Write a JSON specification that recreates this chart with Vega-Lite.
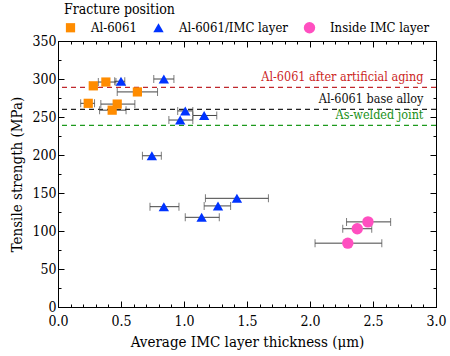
{
  "$schema": "https://vega.github.io/schema/vega-lite/v6.json",
  "width": 378,
  "height": 266,
  "autosize": {"type": "none"},
  "padding": {"left": 58, "top": 41, "right": 14, "bottom": 49},
  "background": "white",
  "config": {
    "font": "DejaVu Serif Condensed, DejaVu Serif",
    "view": {"stroke": "black", "strokeWidth": 1},
    "axis": {"grid": false, "domainColor": "black", "tickColor": "black", "labelColor": "black", "titleColor": "black", "labelFont": "DejaVu Serif Condensed, DejaVu Serif", "titleFont": "DejaVu Serif Condensed, DejaVu Serif", "labelFontSize": 14, "titleFontSize": 15, "titleFontWeight": "normal"},
    "legend": {"labelFont": "DejaVu Serif Condensed, DejaVu Serif", "titleFont": "DejaVu Serif Condensed, DejaVu Serif", "labelColor": "black", "titleColor": "black"}
  },
  "datasets": {
    "pts": [
      {"group": "Al-6061", "t": 0.28, "lo": 0.25, "hi": 0.31, "s": 291},
      {"group": "Al-6061", "t": 0.38, "lo": 0.32, "hi": 0.46, "s": 296},
      {"group": "Al-6061", "t": 0.63, "lo": 0.47, "hi": 0.79, "s": 283},
      {"group": "Al-6061", "t": 0.24, "lo": 0.18, "hi": 0.29, "s": 268},
      {"group": "Al-6061", "t": 0.47, "lo": 0.34, "hi": 0.61, "s": 267},
      {"group": "Al-6061", "t": 0.43, "lo": 0.33, "hi": 0.54, "s": 259},
      {"group": "Al-6061/IMC layer", "t": 0.50, "lo": 0.45, "hi": 0.53, "s": 297},
      {"group": "Al-6061/IMC layer", "t": 0.84, "lo": 0.76, "hi": 0.92, "s": 300},
      {"group": "Al-6061/IMC layer", "t": 1.01, "lo": 0.95, "hi": 1.07, "s": 258},
      {"group": "Al-6061/IMC layer", "t": 0.97, "lo": 0.88, "hi": 1.07, "s": 246},
      {"group": "Al-6061/IMC layer", "t": 1.16, "lo": 1.07, "hi": 1.26, "s": 252},
      {"group": "Al-6061/IMC layer", "t": 0.745, "lo": 0.67, "hi": 0.82, "s": 199},
      {"group": "Al-6061/IMC layer", "t": 0.84, "lo": 0.73, "hi": 0.96, "s": 132},
      {"group": "Al-6061/IMC layer", "t": 1.14, "lo": 1.01, "hi": 1.28, "s": 118},
      {"group": "Al-6061/IMC layer", "t": 1.27, "lo": 1.16, "hi": 1.37, "s": 133},
      {"group": "Al-6061/IMC layer", "t": 1.42, "lo": 1.17, "hi": 1.67, "s": 143},
      {"group": "Inside IMC layer", "t": 2.46, "lo": 2.29, "hi": 2.64, "s": 112},
      {"group": "Inside IMC layer", "t": 2.375, "lo": 2.26, "hi": 2.49, "s": 103},
      {"group": "Inside IMC layer", "t": 2.30, "lo": 2.04, "hi": 2.57, "s": 84}
    ],
    "refs": [
      {"label": "Al-6061 after artificial aging", "v": 289},
      {"label": "Al-6061 base alloy", "v": 260},
      {"label": "As-welded joint", "v": 239}
    ]
  },
  "resolve": {"scale": {"color": "independent", "shape": "independent", "size": "independent"}, "axis": {"x": "independent", "y": "independent"}},
  "layer": [
    {
      "data": {"name": "refs"},
      "mark": {"type": "rule", "strokeDash": [5, 4], "strokeWidth": 1.3},
      "encoding": {
        "y": {"field": "v", "type": "quantitative", "scale": {"domain": [0, 350], "nice": false}, "axis": null},
        "color": {"field": "label", "type": "nominal", "legend": null, "scale": {"domain": ["Al-6061 after artificial aging", "Al-6061 base alloy", "As-welded joint"], "range": ["#c0282d", "#222222", "#1e9a1e"]}}
      }
    },
    {
      "data": {"name": "refs"},
      "mark": {"type": "text", "align": "right", "baseline": "middle", "dy": -10, "fontSize": 12.5, "font": "DejaVu Serif Condensed, DejaVu Serif"},
      "encoding": {
        "x": {"datum": 2.9, "type": "quantitative", "axis": null},
        "y": {"field": "v", "type": "quantitative", "axis": null},
        "text": {"field": "label"},
        "color": {"field": "label", "type": "nominal", "legend": null, "scale": {"domain": ["Al-6061 after artificial aging", "Al-6061 base alloy", "As-welded joint"], "range": ["#cc1f1f", "#111111", "#189018"]}}
      }
    },
    {
      "data": {"name": "pts"},
      "mark": {"type": "rule", "color": "#444444", "strokeWidth": 1},
      "encoding": {
        "x": {"field": "lo", "type": "quantitative", "scale": {"domain": [0, 3], "nice": false},
          "axis": {"orient": "top", "title": null, "labels": false, "values": [0,0.1,0.2,0.3,0.4,0.5,0.6,0.7,0.8,0.9,1,1.1,1.2,1.3,1.4,1.5,1.6,1.7,1.8,1.9,2,2.1,2.2,2.3,2.4,2.5,2.6,2.7,2.8,2.9,3],
            "tickSize": {"condition": {"test": "abs(datum.value*2 - round(datum.value*2)) < 0.001", "value": -6}, "value": -3}}},
        "x2": {"field": "hi"},
        "y": {"field": "s", "type": "quantitative",
          "axis": {"orient": "right", "title": null, "labels": false, "values": [0,25,50,75,100,125,150,175,200,225,250,275,300,325,350],
            "tickSize": {"condition": {"test": "datum.value % 50 == 0", "value": -6}, "value": -3}}}
      }
    },
    {
      "data": {"name": "pts"},
      "mark": {"type": "tick", "orient": "vertical", "color": "#444444", "size": 8, "thickness": 1},
      "encoding": {
        "x": {"field": "lo", "type": "quantitative", "axis": null},
        "y": {"field": "s", "type": "quantitative", "axis": null}
      }
    },
    {
      "data": {"name": "pts"},
      "mark": {"type": "tick", "orient": "vertical", "color": "#444444", "size": 8, "thickness": 1},
      "encoding": {
        "x": {"field": "hi", "type": "quantitative", "axis": null},
        "y": {"field": "s", "type": "quantitative", "axis": null}
      }
    },
    {
      "data": {"name": "pts"},
      "mark": {"type": "point", "filled": true, "opacity": 1, "strokeWidth": 0},
      "encoding": {
        "x": {"field": "t", "type": "quantitative",
          "axis": {"orient": "bottom", "title": "Average IMC layer thickness (μm)", "values": [0,0.1,0.2,0.3,0.4,0.5,0.6,0.7,0.8,0.9,1,1.1,1.2,1.3,1.4,1.5,1.6,1.7,1.8,1.9,2,2.1,2.2,2.3,2.4,2.5,2.6,2.7,2.8,2.9,3],
            "labelExpr": "abs(datum.value*2 - round(datum.value*2)) < 0.001 ? format(datum.value, '.1f') : ''",
            "tickSize": {"condition": {"test": "abs(datum.value*2 - round(datum.value*2)) < 0.001", "value": -6}, "value": -3},
            "labelPadding": 13, "titlePadding": 3, "labelFlush": false, "labelOverlap": false}},
        "y": {"field": "s", "type": "quantitative",
          "axis": {"orient": "left", "title": "Tensile strength (MPa)", "values": [0,25,50,75,100,125,150,175,200,225,250,275,300,325,350],
            "labelExpr": "datum.value % 50 == 0 ? datum.label : ''",
            "tickSize": {"condition": {"test": "datum.value % 50 == 0", "value": -6}, "value": -3},
            "labelPadding": 8, "titlePadding": 7, "labelFlush": false, "labelOverlap": false}},
        "color": {"field": "group", "type": "nominal", "title": "Fracture position",
          "scale": {"domain": ["Al-6061", "Al-6061/IMC layer", "Inside IMC layer"], "range": ["#ff8c00", "#0033ff", "#ff4fc0"]},
          "legend": {"orient": "none", "legendX": 6, "legendY": -38, "direction": "horizontal", "titleFontSize": 14, "titleFontWeight": "normal", "labelFontSize": 13, "labelOffset": 14, "columnPadding": 15, "titlePadding": 4, "padding": 0, "symbolStrokeWidth": 0}},
        "shape": {"field": "group", "type": "nominal", "title": "Fracture position",
          "scale": {"domain": ["Al-6061", "Al-6061/IMC layer", "Inside IMC layer"], "range": ["square", "triangle-up", "circle"]}},
        "size": {"field": "group", "type": "nominal", "title": "Fracture position",
          "scale": {"domain": ["Al-6061", "Al-6061/IMC layer", "Inside IMC layer"], "range": [85, 130, 80]}}
      }
    }
  ]
}
